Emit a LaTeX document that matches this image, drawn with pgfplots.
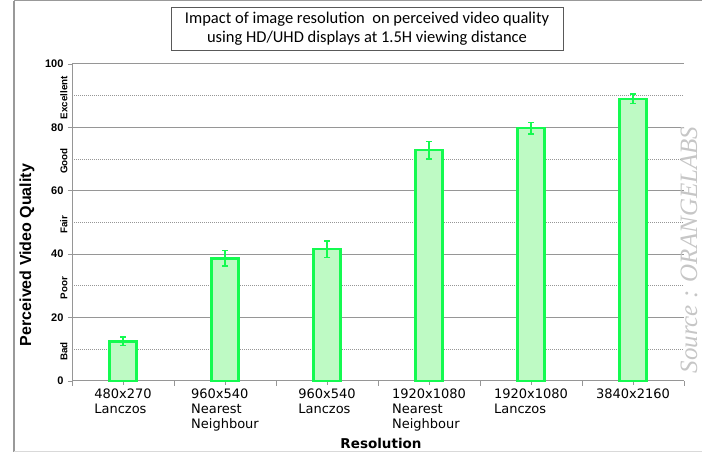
\documentclass[border=0pt]{standalone}
\usepackage{pgfplots}
\pgfplotsset{compat=1.18}
\usepackage{fontspec}
\usepackage{graphicx}
\setmainfont{Liberation Sans}
\newfontfamily\lib{Liberation Sans}
\newfontfamily\dvs{DejaVu Sans}
\newfontfamily\carl{Carlito}
\newfontfamily\libserif{Liberation Serif}
\definecolor{barg}{RGB}{20,250,80}
\definecolor{barfill}{RGB}{190,250,196}
\definecolor{gridg}{RGB}{150,150,150}
\begin{document}
\begin{tikzpicture}[x=1pt,y=1pt]
\path[use as bounding box] (0,0) rectangle (702,452);
% frame
\draw[gray!80, line width=2pt] (14,0) -- (14,451);
\draw[gray!80, line width=1.2pt] (14,451.4) -- (702,451.4);
\draw[gray!30, line width=1pt] (14,0.5) -- (702,0.5);
\begin{axis}[
  at={(72pt,71pt)}, anchor=south west,
  scale only axis, width=612pt, height=317pt,
  xmin=-0.5, xmax=5.5, ymin=0, ymax=100,
  axis x line*=bottom, axis y line*=left,
  axis line style={gridg, line width=1pt},
  ybar, bar width=27pt,
  ytick={0,20,40,60,80,100},
  yticklabels={0,20,40,60,80,100},
  yticklabel style={font=\lib\bfseries\fontsize{11}{12}\selectfont, xshift=-1pt},
  tick align=outside,
  major tick length=4pt,
  tick style={gridg, line width=0.8pt},
  ymajorgrids,
  major grid style={gridg, line width=1pt},
  extra y ticks={10,30,50,70,90},
  extra y tick labels={Bad,Poor,Fair,Good,Excellent},
  extra y tick style={
    major grid style={gridg, line width=0.9pt, dash pattern=on 1pt off 1pt},
    major tick length=0pt,
    yticklabel style={rotate=90, anchor=south, xshift=-2pt,
      font=\lib\bfseries\fontsize{9.8}{11}\selectfont}},
  xtick={0,1,2,3,4,5},
  xticklabels={{480x270\\Lanczos},{960x540\\Nearest\\Neighbour},{960x540\\Lanczos},{1920x1080\\Nearest\\Neighbour},{1920x1080\\Lanczos},{3840x2160}},
  xticklabel style={align=left, anchor=north, yshift=0pt,
    font=\dvs\fontsize{13}{15}\selectfont},
  extra x ticks={-0.5,0.5,1.5,2.5,3.5,4.5,5.5},
  extra x tick labels={},
  extra x tick style={major tick length=5pt, xmajorgrids=false},
  clip=false,
]
\addplot[draw=barg, line width=2.5pt, fill=barfill,
  error bars/.cd, y dir=both, y explicit,
  error bar style={barg, line width=1.6pt},
  error mark options={rotate=90, mark size=3pt, barg, line width=1.6pt}]
  table[x=x, y=y, y error=e] {
x y e
0 12.5 1.3
1 38.7 2.5
2 41.6 2.6
3 72.8 2.7
4 79.8 1.8
5 89.0 1.5
};
\end{axis}
% title
\draw[gray!70!black, line width=0.8pt] (171,402) rectangle (563,445);
\node[align=center, font=\carl\fontsize{16.5}{19}\selectfont] at (367,423.5)
  {Impact of image resolution\ \ on perceived video quality\\using HD/UHD displays at 1.5H viewing distance};
% y label
\node[rotate=90, font=\lib\bfseries\fontsize{16}{18}\selectfont] at (27,197) {Perceived Video Quality};
% x label
\node[font=\dvs\bfseries\fontsize{13.5}{15}\selectfont] at (381,9) {Resolution};
% watermark
\node[rotate=90, font=\libserif\itshape\fontsize{25}{27}\selectfont, text=gray!45, inner sep=0pt] at (689,202) {Source : ORANGELABS};
\end{tikzpicture}
\end{document}
